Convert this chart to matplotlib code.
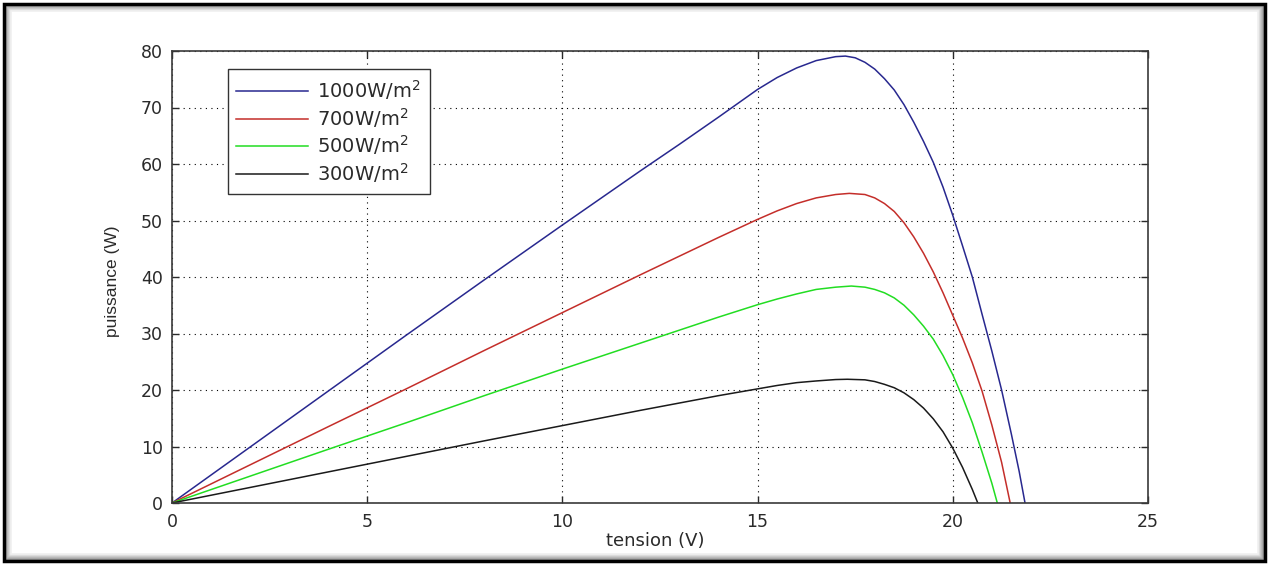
import numpy as np
import matplotlib.pyplot as plt
from matplotlib.patches import Rectangle

# ---------------------------------------------------------
# DATA
# ---------------------------------------------------------
labels = ["1000W/m$^2$", "700W/m$^2$", "500W/m$^2$", "300W/m$^2$"]
colors = ["#28288f", "#c42e2a", "#22dd22", "#1a1a1a"]

v_1000 = [0, 2, 4, 6, 8, 10, 12, 13, 14, 15, 15.5, 16, 16.5, 17, 17.25, 17.5, 17.75,
          18, 18.25, 18.5, 18.75, 19, 19.25, 19.5, 19.75, 20, 20.25, 20.5, 20.75,
          21, 21.25, 21.5, 21.7, 21.85]
p_1000 = [0, 9.9, 19.8, 29.7, 39.5, 49.2, 58.8, 63.5, 68.3, 73.2, 75.3, 77.0, 78.3, 79.0,
          79.1, 78.8, 78.0, 76.8, 75.1, 73.1, 70.5, 67.4, 64.0, 60.3, 55.9, 50.9, 45.5,
          40.0, 33.4, 26.9, 20.0, 12.2, 5.6, 0]

v_700 = [0, 2, 4, 6, 8, 10, 12, 14, 15, 15.5, 16, 16.5, 17, 17.35, 17.75, 18, 18.25,
         18.5, 18.75, 19, 19.25, 19.5, 19.75, 20, 20.25, 20.5, 20.75, 21, 21.25, 21.47]
p_700 = [0, 6.75, 13.5, 20.2, 27.0, 33.7, 40.4, 47.0, 50.2, 51.7, 53.0, 54.0, 54.6, 54.8,
         54.6, 54.0, 53.0, 51.6, 49.6, 47.1, 44.2, 40.9, 37.2, 33.2, 29.2, 24.8, 19.8,
         13.8, 7.2, 0]

v_500 = [0, 2, 4, 6, 8, 10, 12, 14, 15, 15.5, 16, 16.5, 17, 17.4, 17.75, 18, 18.25,
         18.5, 18.75, 19, 19.25, 19.5, 19.75, 20, 20.25, 20.5, 20.75, 21, 21.14]
p_500 = [0, 4.75, 9.5, 14.2, 19.0, 23.7, 28.3, 32.9, 35.1, 36.1, 37.0, 37.8, 38.2, 38.4,
         38.2, 37.8, 37.2, 36.3, 35.0, 33.3, 31.3, 29.0, 26.1, 22.7, 18.7, 14.2, 9.0,
         3.5, 0]

v_300 = [0, 2, 4, 6, 8, 10, 12, 14, 15, 15.5, 16, 16.5, 17, 17.3, 17.75, 18, 18.25,
         18.5, 18.75, 19, 19.25, 19.5, 19.75, 20, 20.25, 20.5, 20.64]
p_300 = [0, 2.75, 5.5, 8.25, 11.0, 13.7, 16.4, 19.0, 20.2, 20.8, 21.3, 21.6, 21.85, 21.9,
         21.8, 21.5, 21.0, 20.4, 19.5, 18.3, 16.8, 14.9, 12.6, 9.7, 6.3, 2.4, 0]

x_ticks = [0, 5, 10, 15, 20, 25]
y_ticks = [0, 10, 20, 30, 40, 50, 60, 70, 80]

# ---------------------------------------------------------
# PLOT
# ---------------------------------------------------------
plt.rcParams['font.family'] = ['DejaVu Sans']
plt.rcParams['mathtext.default'] = 'regular'

W, H = 1269, 565
fig = plt.figure(figsize=(W / 100, H / 100), dpi=100)
fig.patch.set_facecolor("white")

# picture frame: black border with grey bevel
for i in range(8):
    g = 0.45 + i * 0.07
    fig.add_artist(Rectangle(((4 + i) / W, (4 + i) / H), (1261 - 2 * i) / W, (557 - 2 * i) / H,
                             transform=fig.transFigure, fill=False,
                             edgecolor=(g, g, g), linewidth=1.2, zorder=0))
fig.add_artist(Rectangle((4 / W, 4 / H), 1261 / W, 557 / H, transform=fig.transFigure,
                         fill=False, edgecolor="black", linewidth=2.5, zorder=1))

ax = fig.add_axes([172 / W, 62 / H, 976 / W, 452 / H])

series = [(v_1000, p_1000), (v_700, p_700), (v_500, p_500), (v_300, p_300)]
for (v, p), lab, col in zip(series, labels, colors):
    ax.plot(v, p, color=col, linewidth=1.1, label=lab)

ax.set_xlim(0, 25)
ax.set_ylim(0, 80)
ax.set_xticks(x_ticks)
ax.set_yticks(y_ticks)
ax.grid(True, color="black", linestyle=(0, (1, 4)), linewidth=0.8)
ax.tick_params(direction="in", length=5, width=1, top=True, right=True,
               labelsize=12.5, colors="#2a2a2a")
ax.tick_params(axis="x", pad=7)
ax.tick_params(axis="y", pad=6.5)
for s in ax.spines.values():
    s.set_linewidth(1.2)
    s.set_color("#3a3a3a")

xl = ax.set_xlabel("tension (V)", fontsize=13, color="#2a2a2a")
ax.xaxis.set_label_coords(0.495, (503 - 541) / 452)
xl.set_va("center")
yl = ax.set_ylabel("puissance (W)", fontsize=12.5, color="#2a2a2a",
                   family=["Liberation Sans Narrow", "Liberation Sans"])
ax.yaxis.set_label_coords((112 - 172) / 976, 0.49)
yl.set_va("center")

leg = ax.legend(loc="upper left", bbox_to_anchor=(0.057, 0.96), borderaxespad=0,
                fontsize=14, handlelength=3.7, labelspacing=0.2, fancybox=False,
                framealpha=1, edgecolor="#333333", borderpad=0.45, handletextpad=0.45)
leg.get_frame().set_linewidth(1.0)
for t in leg.get_texts():
    t.set_color("#2a2a2a")

plt.savefig("out.png", dpi=100)
